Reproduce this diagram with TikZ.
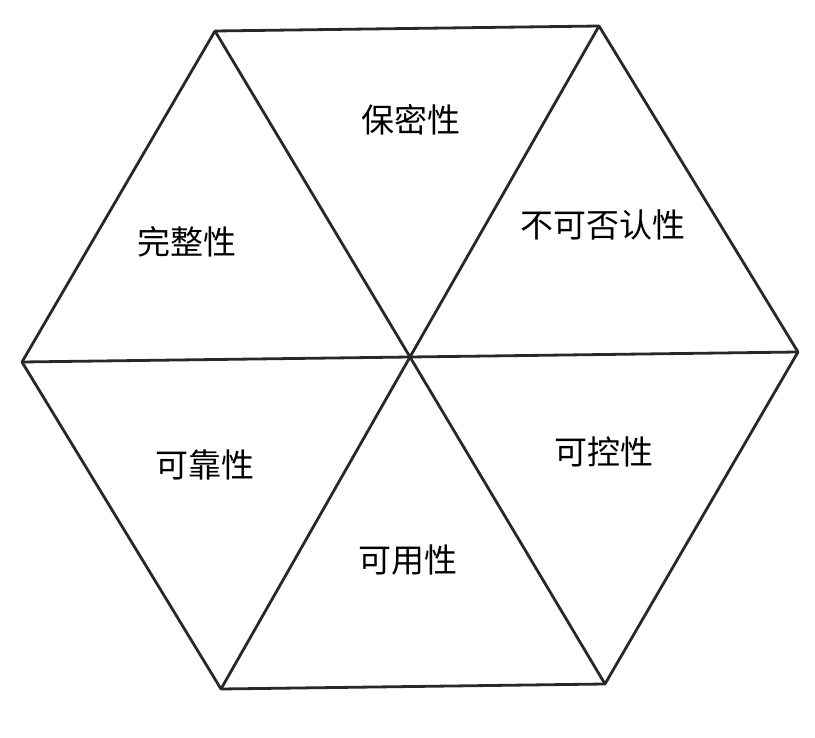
\documentclass[tikz,border=0pt]{standalone}
\usepackage{fontspec}
\usepackage{xcolor}
\newfontfamily\cjk{Noto Sans CJK SC}
\definecolor{EdgeCol}{RGB}{40,40,40}
\tikzset{
  hxedge/.style={line width=2.8pt, draw=EdgeCol, line join=round},
  hxlab/.style={font=\cjk\fontsize{33}{35}\selectfont, text=black, inner sep=0pt}
}

\begin{document}
\begin{tikzpicture}[x=1pt,y=-1pt]
  \useasboundingbox (0,0) rectangle (815,738);
  % corners of the hexagon and its middle
  \coordinate (tl) at (215,31);
  \coordinate (tr) at (599,26);
  \coordinate (rt) at (798,352);
  \coordinate (br) at (605,684);
  \coordinate (bl) at (221,689);
  \coordinate (lf) at (22,362);
  \coordinate (mid) at (410,357);
  \draw[hxedge] (tl) -- (tr) -- (rt) -- (br) -- (bl) -- (lf) -- cycle;
  \draw[hxedge] (tl) -- (mid) -- (br);
  \draw[hxedge] (tr) -- (mid) -- (bl);
  \draw[hxedge] (lf) -- (mid) -- (rt);
  % the six labels
  \node[hxlab] (secret) at (411,120) {保密性};
  \node[hxlab] (nonrep) at (603,225) {不可否认性};
  \node[hxlab] (integ) at (187,242) {完整性};
  \node[hxlab] (reliab) at (205,465) {可靠性};
  \node[hxlab] (control) at (604,452) {可控性};
  \node[hxlab] (avail) at (408,560) {可用性};
\end{tikzpicture}
\end{document}
